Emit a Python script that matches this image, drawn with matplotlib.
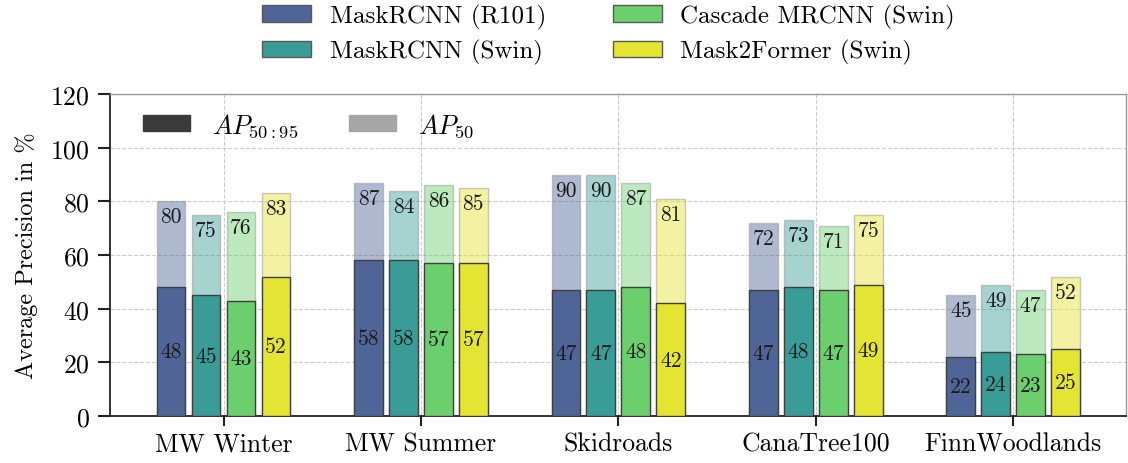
import matplotlib
matplotlib.use("Agg")
import matplotlib.pyplot as plt
import matplotlib.patches as mpatches
import numpy as np

plt.rcParams["font.family"] = ["cmr10", "DejaVu Serif"]
plt.rcParams["mathtext.fontset"] = "cm"
plt.rcParams["axes.formatter.use_mathtext"] = True

datasets = ["MW Winter", "MW Summer", "Skidroads", "CanaTree100", "FinnWoodlands"]
models = ["MaskRCNN (R101)", "MaskRCNN (Swin)", "Cascade MRCNN (Swin)", "Mask2Former (Swin)"]

ap_50_95 = {
    "MaskRCNN (R101)": [48, 58, 47, 47, 22],
    "MaskRCNN (Swin)": [45, 58, 47, 48, 24],
    "Cascade MRCNN (Swin)": [43, 57, 48, 47, 23],
    "Mask2Former (Swin)": [52, 57, 42, 49, 25],
}
ap_50 = {
    "MaskRCNN (R101)": [80, 87, 90, 72, 45],
    "MaskRCNN (Swin)": [75, 84, 90, 73, 49],
    "Cascade MRCNN (Swin)": [76, 86, 87, 71, 47],
    "Mask2Former (Swin)": [83, 85, 81, 75, 52],
}

colors = ["#4f6497", "#3a9c97", "#6ccf6e", "#e4e432"]

fig = plt.figure(figsize=(11.28, 4.64), dpi=100)
ax = fig.add_axes([0.0975, 0.101, 0.9005, 0.694])

x = np.arange(len(datasets))
step = 0.177
width = 0.146
tick_fs = 18.5
val_fs = 15.5

for i, (m, c) in enumerate(zip(models, colors)):
    pos = x + (i - 1.5) * step
    light = ax.bar(pos, ap_50[m], width, color=c, alpha=0.45,
                   edgecolor="0.55", linewidth=1.0, zorder=2)
    dark = ax.bar(pos, ap_50_95[m], width, color=c,
                  edgecolor="0.25", linewidth=1.0, zorder=3, label=m)
    ax.bar_label(dark, labels=[f"{v:d}" for v in ap_50_95[m]],
                 label_type="center", fontsize=val_fs, color="#1a1a1a", zorder=4)
    ax.bar_label(light, labels=[f"{v:d}" for v in ap_50[m]],
                 label_type="edge", padding=-18, fontsize=val_fs, color="#1a1a1a", zorder=4)

ax.set_xlim(-0.575, len(datasets) - 1 + 0.57)
ax.set_ylim(0, 120)
ax.set_yticks(np.arange(0, 121, 20))
ax.set_xticks(x)
ax.set_xticklabels(datasets, fontsize=tick_fs)
ax.tick_params(axis="y", labelsize=tick_fs, direction="out", length=8.5, width=1.5,
               color="#222222", pad=6)
ax.tick_params(axis="x", direction="out", length=7.5, width=1.5, color="#222222", pad=4)
ax.set_ylabel("Average Precision in %", fontsize=17.5, labelpad=9)

ax.grid(True, linestyle="--", color="#cccccc", linewidth=0.8, zorder=0)
ax.set_axisbelow(True)

for side in ["left", "bottom"]:
    ax.spines[side].set_color("#222222")
    ax.spines[side].set_linewidth(1.3)
for side in ["top", "right"]:
    ax.spines[side].set_color("#999999")
    ax.spines[side].set_linewidth(1.0)

# model legend above the axes
model_handles = [mpatches.Patch(facecolor=c, edgecolor="0.35", label=m)
                 for m, c in zip(models, colors)]
fig.legend(handles=model_handles, loc="upper left", ncol=2, frameon=False,
           fontsize=18, bbox_to_anchor=(262 / 1128, 1 - 5 / 464), borderpad=0,
           borderaxespad=0, handlelength=1.96, handleheight=0.64, handletextpad=0.76,
           columnspacing=2.65, labelspacing=0.4)

# metric legend inside the axes
metric_handles = [
    mpatches.Patch(facecolor="#3a3a3a", edgecolor="#3a3a3a", label=r"$AP_{50:95}$"),
    mpatches.Patch(facecolor="#a6a6a6", edgecolor="#a6a6a6", label=r"$AP_{50}$"),
]
ax.legend(handles=metric_handles, loc="upper left", ncol=2, frameon=False,
          fontsize=19, handlelength=1.78, handleheight=0.6, handletextpad=0.83,
          columnspacing=1.93, borderpad=0, borderaxespad=0,
          bbox_to_anchor=(33 / 1016, 1 - 17 / 322))

fig.savefig("out.png", dpi=100)
